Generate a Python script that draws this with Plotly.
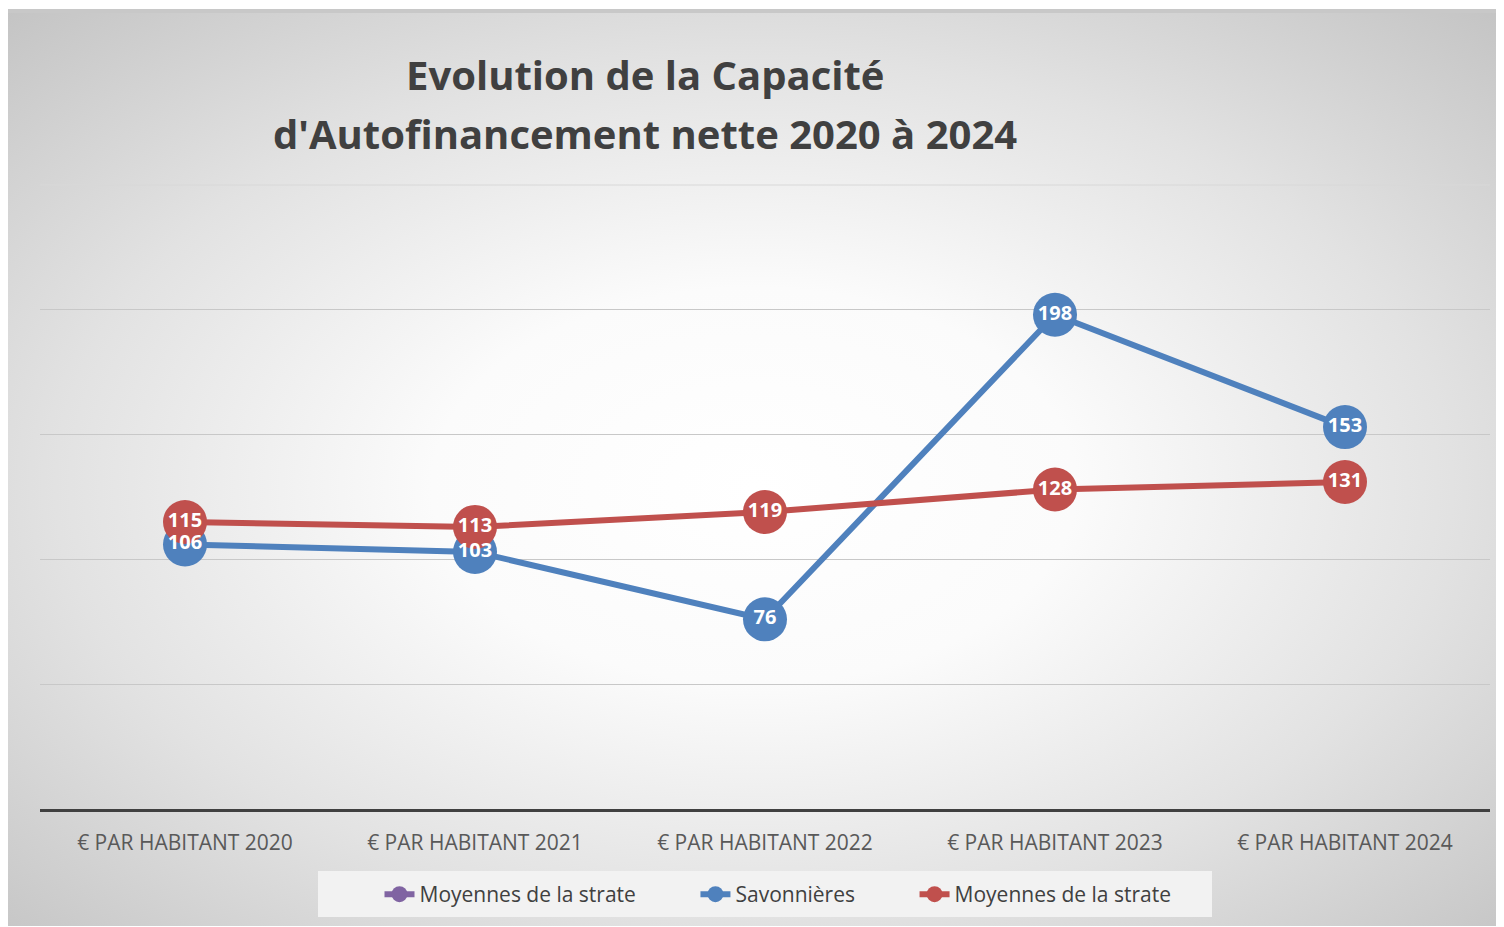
import base64
import plotly.graph_objs as go

categories = ['€ PAR HABITANT 2020', '€ PAR HABITANT 2021', '€ PAR HABITANT 2022',
              '€ PAR HABITANT 2023', '€ PAR HABITANT 2024']
savonnieres = [106, 103, 76, 198, 153]
strate = [115, 113, 119, 128, 131]
strate_vide = [None, None, None, None, None]

# page has an 8px body margin, so the figure sits at (8, 8) on screen
OFF = 8
W, H = 1504 - OFF, 927 - OFF
L, R, T, B = 40 - OFF, 14, 184 - OFF, 118
pw, ph = W - L - R, H - T - B


def px_x(x):
    return (x - OFF - L) / pw


def px_y(y):
    return (H - B - (y - OFF)) / ph


# radial gradient background like the Excel chart area
svg = '''<svg xmlns="http://www.w3.org/2000/svg" width="1492" height="917" viewBox="0 0 1492 917" preserveAspectRatio="none">
<defs><radialGradient id="g" cx="0.5" cy="0.52" r="0.72">
<stop offset="0" stop-color="#ffffff"/>
<stop offset="0.3" stop-color="#fbfbfb"/>
<stop offset="0.65" stop-color="#e2e2e2"/>
<stop offset="1" stop-color="#c4c4c4"/>
</radialGradient></defs>
<rect x="0" y="0" width="1492" height="917" fill="url(#g)"/>
<rect x="0" y="0" width="1492" height="4" fill="#c8c8c8"/>
</svg>'''
src = 'data:image/svg+xml;base64,' + base64.b64encode(svg.encode('utf-8')).decode('ascii')

blue = '#4f81bd'
red = '#c0504d'
purple = '#8064a2'
pad = '\u00a0' * 10

fig = go.Figure()
fig.add_trace(go.Scatter(x=categories, y=strate_vide, mode='lines+markers',
                         name='Moyennes de la strate' + pad,
                         line=dict(color=purple, width=6),
                         marker=dict(color=purple, size=44)))
fig.add_trace(go.Scatter(x=categories, y=savonnieres, mode='lines+markers',
                         name='Savonnières' + pad,
                         line=dict(color=blue, width=6),
                         marker=dict(color=blue, size=44)))
fig.add_trace(go.Scatter(x=categories, y=strate, mode='lines+markers',
                         name='Moyennes de la strate',
                         line=dict(color=red, width=6),
                         marker=dict(color=red, size=44)))
# data labels on top of every marker
for vals in (savonnieres, strate):
    fig.add_trace(go.Scatter(x=categories, y=vals, mode='text',
                             text=[str(v) for v in vals],
                             textposition='middle center',
                             textfont=dict(family='Open Sans', size=20, color='white', weight='bold'),
                             showlegend=False, hoverinfo='skip'))

fig.update_layout(
    width=W, height=H,
    margin=dict(l=L, r=R, t=T, b=B),
    paper_bgcolor='white',
    plot_bgcolor='rgba(0,0,0,0)',
    font=dict(family='Open Sans', color='#595959'),
    images=[dict(source=src, xref='paper', yref='paper',
                 x=px_x(8), y=px_y(9), sizex=1492 / pw, sizey=917 / ph,
                 xanchor='left', yanchor='top', sizing='stretch', layer='below')],
    shapes=[dict(type='rect', xref='paper', yref='paper', layer='below',
                 x0=px_x(318), x1=px_x(1212), y0=px_y(871), y1=px_y(917),
                 fillcolor='#f2f2f2', line=dict(width=0)),
            dict(type='line', xref='paper', yref='y', layer='below',
                 x0=0, x1=1, y0=250, y1=250, line=dict(color='#d8d8d8', width=1))],
    legend=dict(orientation='h', x=px_x(778), y=px_y(874), xanchor='center', yanchor='top',
                bgcolor='rgba(0,0,0,0)', font=dict(size=21, color='#404040')),
    annotations=[
        dict(text='<b>Evolution de la Capacité</b>', x=px_x(645), y=px_y(75),
             xref='paper', yref='paper', showarrow=False, xanchor='center', yanchor='middle',
             font=dict(family='Open Sans', size=40, color='#404040')),
        dict(text="<b>d'Autofinancement nette 2020 à 2024</b>", x=px_x(645), y=px_y(133),
             xref='paper', yref='paper', showarrow=False, xanchor='center', yanchor='middle',
             font=dict(family='Open Sans', size=40, color='#404040')),
    ],
)
fig.update_xaxes(range=[-0.5, 4.5], showline=True, linecolor='#404040', linewidth=3,
                 showgrid=False, ticks='outside', ticklen=13, tickcolor='rgba(0,0,0,0)',
                 tickfont=dict(size=21, color='#595959'))
fig.update_yaxes(range=[0, 250.4], tickvals=[50, 100, 150, 200, 250], showticklabels=False,
                 showgrid=True, gridcolor='#c8c8c8', gridwidth=1, zeroline=False)

fig.write_html("out.html")
